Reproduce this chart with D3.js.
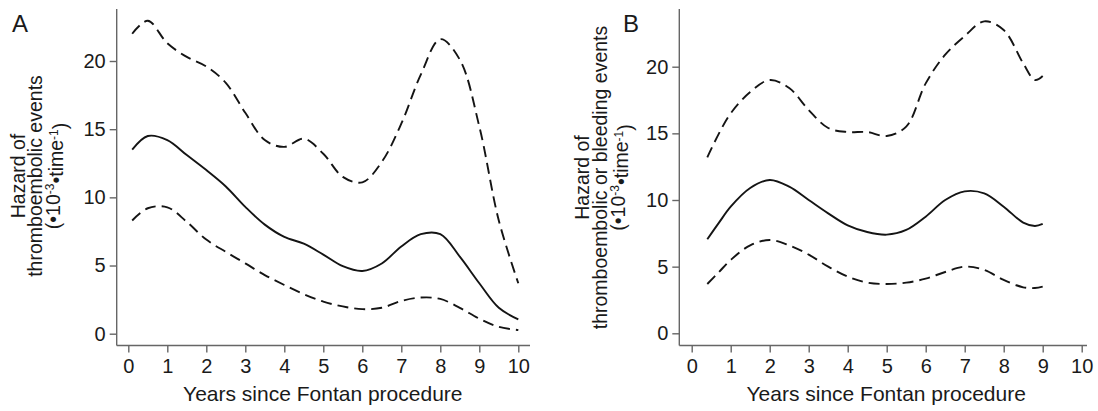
<!DOCTYPE html>
<html>
<head>
<meta charset="utf-8">
<script src="https://d3js.org/d3.v7.min.js"></script>
<style>
  body { margin: 0; background: #fff; }
  svg text { font-family: "Liberation Sans", Arial, Helvetica, sans-serif; fill: #1a1a1a; }
</style>
</head>
<body>
<svg width="1098" height="411"></svg>
<script>
// Panel A - thromboembolic events
const aYears = [0.1, 0.5, 1, 1.5, 2, 2.5, 3, 3.5, 4, 4.5, 5, 5.5, 6, 6.5, 7, 7.5, 8, 8.5, 9, 9.5, 10];
const aHazard = [13.5, 14.5, 14.2, 13.1, 12.0, 10.8, 9.3, 8.0, 7.1, 6.6, 5.8, 4.95, 4.6, 5.15, 6.4, 7.3, 7.3, 5.65, 3.7, 1.9, 1.05];
const aUpper = [22.0, 22.95, 21.3, 20.3, 19.6, 18.4, 16.2, 14.2, 13.7, 14.3, 13.2, 11.5, 11.1, 12.6, 15.4, 19.0, 21.6, 20.1, 15.2, 8.3, 3.7];
const aLower = [8.3, 9.2, 9.27, 8.2, 6.9, 6.0, 5.16, 4.3, 3.57, 2.9, 2.35, 2.0, 1.8, 1.9, 2.4, 2.65, 2.55, 1.9, 1.1, 0.5, 0.27];

// Panel B - thromboembolic or bleeding events
const bYears = [0.4, 0.7, 1, 1.5, 2, 2.5, 3, 3.5, 4, 4.5, 5, 5.5, 6, 6.5, 7, 7.5, 8, 8.5, 8.8, 9];
const bHazard = [7.05, 8.3, 9.5, 10.9, 11.5, 11.0, 10.0, 9.0, 8.1, 7.6, 7.4, 7.75, 8.75, 10.0, 10.65, 10.5, 9.5, 8.3, 8.05, 8.2];
const bUpper = [13.2, 15.0, 16.5, 18.1, 19.0, 18.4, 16.75, 15.4, 15.1, 15.1, 14.8, 15.5, 18.75, 20.9, 22.3, 23.4, 22.75, 20.25, 19.0, 19.3];
const bLower = [3.7, 4.6, 5.5, 6.6, 7.0, 6.6, 5.9, 5.0, 4.25, 3.8, 3.7, 3.8, 4.1, 4.6, 5.0, 4.75, 4.0, 3.45, 3.4, 3.5];

const xTicks = [0, 1, 2, 3, 4, 5, 6, 7, 8, 9, 10];
const yTicks = [0, 5, 10, 15, 20];
const xTitle = "Years since Fontan procedure";

const svg = d3.select("svg");

function drawPanel(p) {
  const x = d3.scaleLinear().domain([0, 10]).range([p.x0, p.x1]);
  const y = d3.scaleLinear().domain([0, 20]).range([p.y0, p.y1]);
  const g = svg.append("g");

  // offset axis lines
  g.append("line")
    .attr("x1", p.axisX).attr("x2", p.axisX)
    .attr("y1", p.axisTop).attr("y2", p.axisY)
    .attr("stroke", "#666").attr("stroke-width", 1.4);
  g.append("line")
    .attr("x1", p.axisX).attr("x2", p.axisRight)
    .attr("y1", p.axisY).attr("y2", p.axisY)
    .attr("stroke", "#666").attr("stroke-width", 1.4);

  const yAxis = g.append("g")
    .attr("transform", `translate(${p.axisX},0)`)
    .call(d3.axisLeft(y).tickValues(yTicks).tickSize(7).tickPadding(4));
  const xAxis = g.append("g")
    .attr("transform", `translate(0,${p.axisY})`)
    .call(d3.axisBottom(x).tickValues(xTicks).tickSize(7).tickPadding(6));
  [yAxis, xAxis].forEach(a => {
    a.select(".domain").remove();
    a.selectAll(".tick line").attr("stroke", "#666").attr("stroke-width", 1.4);
    a.selectAll(".tick text").style("font-size", "20px").attr("fill", "#1a1a1a");
  });

  const line = d3.line()
    .x(d => x(d[0]))
    .y(d => y(d[1]))
    .curve(d3.curveCatmullRom.alpha(0.5));

  const series = [
    { vals: p.upper, dash: "11,6" },
    { vals: p.hazard, dash: null },
    { vals: p.lower, dash: "11,6" }
  ];
  series.forEach(s => {
    g.append("path")
      .datum(p.years.map((t, i) => [t, s.vals[i]]))
      .attr("d", line)
      .attr("fill", "none")
      .attr("stroke", "#141414")
      .attr("stroke-width", 1.9)
      .attr("stroke-dasharray", s.dash);
  });

  // panel letter
  g.append("text")
    .attr("x", p.letterX).attr("y", 32)
    .style("font-size", "24px")
    .text(p.letter);

  // x title
  g.append("text")
    .attr("x", (p.x0 + p.x1) / 2 - 0.5).attr("y", 401)
    .attr("text-anchor", "middle")
    .style("font-size", "21px")
    .text(xTitle);

  // y title, three lines
  const yt = g.append("g").attr("transform", `translate(0,${p.yTitleY}) rotate(-90)`);
  p.yLines.forEach((ln, i) => {
    const t = yt.append("text")
      .attr("x", 0).attr("y", p.yLineX[i])
      .attr("dy", "0.35em")
      .attr("text-anchor", "middle")
      .style("font-size", "19.5px");
    if (i < 2) {
      t.text(ln);
    } else {
      t.append("tspan").text("(•10");
      t.append("tspan").attr("dy", "-0.45em").style("font-size", "12px").text("-3");
      t.append("tspan").attr("dy", "0.45em").text("•time");
      t.append("tspan").attr("dy", "-0.45em").style("font-size", "12px").text("-1");
      t.append("tspan").attr("dy", "0.45em").text(")");
    }
  });
}

drawPanel({
  letter: "A", letterX: 12,
  x0: 128.3, x1: 518.3, y0: 333.7, y1: 61,
  axisX: 116.7, axisY: 345.5, axisTop: 9, axisRight: 530,
  years: aYears, hazard: aHazard, upper: aUpper, lower: aLower,
  yLines: ["Hazard of", "thromboembolic events", "(•10-3•time-1)"],
  yLineX: [18.5, 35.5, 53], yTitleY: 176
});

drawPanel({
  letter: "B", letterX: 623,
  x0: 691.7, x1: 1081.7, y0: 333.3, y1: 66.7,
  axisX: 679.3, axisY: 345.5, axisTop: 9, axisRight: 1087,
  years: bYears, hazard: bHazard, upper: bUpper, lower: bLower,
  yLines: ["Hazard of", "thromboembolic or bleeding events", "(•10-3•time-1)"],
  yLineX: [582, 600, 618], yTitleY: 177.5
});
</script>
</body>
</html>
